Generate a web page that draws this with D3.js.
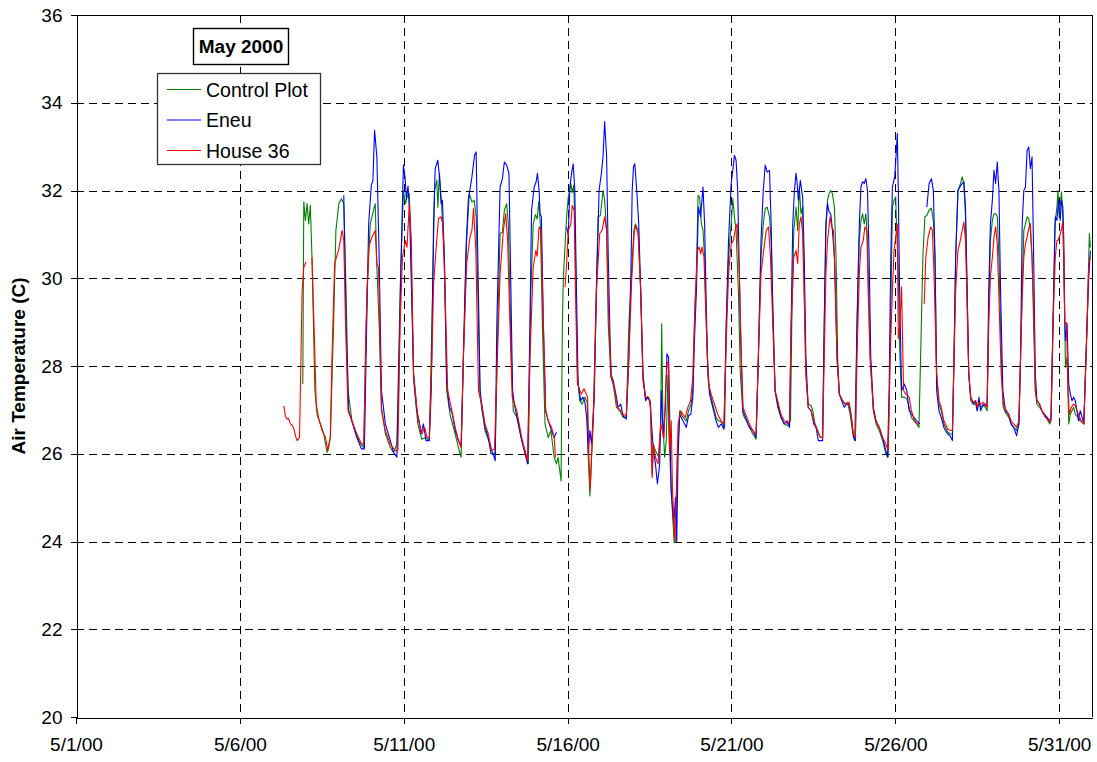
<!DOCTYPE html>
<html><head><meta charset="utf-8">
<script src="https://cdn.jsdelivr.net/npm/d3@7"></script>
<style>body{margin:0;background:#fff}svg{display:block;font-family:Arial,"Liberation Sans",sans-serif}</style>
</head><body><svg id="c" width="1097" height="762"></svg>
<script>
// ---- data (t = days since 5/1/00 00:00, value = air temperature in C) ----
const chartTitle = "May 2000";
const yTitle = "Air Temperature (C)";
const seriesNames = ["Control Plot", "Eneu", "House 36"];
const seriesColors = ["#008000", "#0000ff", "#ff0000"];
const yTicks = [20, 22, 24, 26, 28, 30, 32, 34, 36];
const xTickDays = [0, 5, 10, 15, 20, 25, 30];
const xTickLabels = ["5/1/00", "5/6/00", "5/11/00", "5/16/00", "5/21/00", "5/26/00", "5/31/00"];

const controlPlot = [[6.92,27.59],[6.95,31.74],[7.00,31.32],[7.05,31.70],[7.10,31.24],[7.15,31.66],[7.20,30.48],[7.29,27.44],[7.36,26.87],[7.46,26.68],[7.56,26.45],[7.66,26.03],[7.76,26.37],[7.86,28.96],[7.93,31.09],[8.02,31.70],[8.10,31.81],[8.17,31.70],[8.24,29.72],[8.30,27.44],[8.42,26.75],[8.57,26.40],[8.71,26.20],[8.78,26.14],[8.88,29.72],[8.98,31.24],[9.08,31.55],[9.13,31.70],[9.18,30.25],[9.25,28.96],[9.32,27.06],[9.44,26.45],[9.59,26.14],[9.69,26.03],[9.79,26.22],[9.89,29.72],[9.99,32.0],[10.05,31.70],[10.10,31.85],[10.17,31.93],[10.23,30.48],[10.30,27.67],[10.43,26.68],[10.55,26.33],[10.66,26.37],[10.78,26.30],[10.86,28.96],[10.94,32.0],[11.01,32.23],[11.04,31.62],[11.09,32.39],[11.16,31.62],[11.24,30.48],[11.31,27.44],[11.42,26.87],[11.57,26.45],[11.67,26.14],[11.75,25.92],[11.82,28.2],[11.92,30.86],[12.0,31.93],[12.08,31.74],[12.15,31.78],[12.21,31.4],[12.26,29.72],[12.33,27.29],[12.48,26.53],[12.63,26.22],[12.70,26.03],[12.79,26.0],[12.87,28.96],[12.94,31.02],[13.01,31.05],[13.07,31.55],[13.14,31.70],[13.19,31.24],[13.27,28.58],[13.34,26.98],[13.45,26.83],[13.6,26.3],[13.7,26.07],[13.8,25.77],[13.88,29.72],[13.95,31.24],[14.02,31.45],[14.07,31.35],[14.12,31.75],[14.17,31.2],[14.23,28.96],[14.31,26.68],[14.41,26.37],[14.49,26.53],[14.59,25.92],[14.66,25.77],[14.71,25.92],[14.80,25.38],[14.84,28.96],[14.87,30.03],[14.97,31.4],[15.02,31.85],[15.10,32.16],[15.14,31.95],[15.19,32.12],[15.24,30.48],[15.30,27.82],[15.37,27.21],[15.44,27.13],[15.53,27.29],[15.60,27.17],[15.63,25.92],[15.68,25.04],[15.73,25.92],[15.78,26.68],[15.85,28.96],[15.93,31.4],[16.0,31.43],[16.08,32.0],[16.13,31.78],[16.19,31.09],[16.24,28.96],[16.32,27.74],[16.39,27.59],[16.49,27.06],[16.59,26.98],[16.69,26.83],[16.79,26.83],[16.87,28.96],[16.95,30.1],[17.02,31.09],[17.07,31.24],[17.15,31.09],[17.23,29.72],[17.30,27.82],[17.38,27.25],[17.45,27.29],[17.53,27.17],[17.58,25.54],[17.61,26.22],[17.68,26.07],[17.78,25.92],[17.84,26.68],[17.87,28.96],[17.91,26.68],[17.96,25.92],[18.01,26.30],[18.06,27.8],[18.09,26.5],[18.16,25.2],[18.25,23.97],[18.30,24.0],[18.35,25.92],[18.42,26.98],[18.49,26.87],[18.57,26.79],[18.62,26.75],[18.69,26.98],[18.77,27.13],[18.82,27.44],[18.87,28.96],[18.93,30.1],[18.98,31.89],[19.03,31.85],[19.08,31.24],[19.13,31.1],[19.18,30.48],[19.26,28.2],[19.33,27.44],[19.43,27.13],[19.53,26.83],[19.60,26.75],[19.70,26.72],[19.79,26.6],[19.84,28.96],[19.91,30.48],[19.99,31.24],[20.04,31.81],[20.09,31.4],[20.14,31.09],[20.21,29.72],[20.27,27.82],[20.35,26.9],[20.45,26.75],[20.55,26.6],[20.65,26.45],[20.75,26.33],[20.82,28.2],[20.90,30.48],[20.97,31.24],[21.03,31.59],[21.09,31.62],[21.16,31.40],[21.21,30.86],[21.26,29.34],[21.33,27.44],[21.41,27.06],[21.51,26.83],[21.61,26.68],[21.72,26.64],[21.80,26.75],[21.84,28.96],[21.90,31.09],[21.97,31.62],[22.02,31.09],[22.07,32.08],[22.12,31.47],[22.17,31.62],[22.22,29.72],[22.27,27.82],[22.34,27.13],[22.43,27.1],[22.48,26.98],[22.55,26.68],[22.63,26.53],[22.71,26.37],[22.78,26.37],[22.83,28.96],[22.88,31.09],[22.93,31.78],[22.98,31.93],[23.03,32.0],[23.08,31.93],[23.14,31.62],[23.19,30.48],[23.24,28.2],[23.29,27.36],[23.39,27.21],[23.46,27.13],[23.54,27.17],[23.62,26.9],[23.69,26.53],[23.76,26.30],[23.83,28.96],[23.90,30.86],[23.95,31.32],[24.0,31.47],[24.05,31.24],[24.10,31.47],[24.15,30.86],[24.23,28.2],[24.33,26.98],[24.41,26.68],[24.51,26.53],[24.61,26.30],[24.71,26.0],[24.78,25.92],[24.84,28.2],[24.91,31.62],[24.96,31.78],[25.01,31.85],[25.04,31.09],[25.08,30.48],[25.14,28.2],[25.19,27.29],[25.27,27.29],[25.35,27.25],[25.42,27.06],[25.49,26.83],[25.57,26.75],[25.65,26.68],[25.72,26.6],[25.77,28.2],[25.84,30.48],[25.90,31.40],[25.96,31.43],[26.03,31.55],[26.10,31.60],[26.16,31.3],[26.21,30.48],[26.26,27.82],[26.33,27.13],[26.40,26.98],[26.48,26.68],[26.53,26.6],[26.60,26.49],[26.69,26.45],[26.74,26.45],[26.79,28.2],[26.84,30.48],[26.91,32.0],[26.99,32.16],[27.04,32.31],[27.09,32.16],[27.14,31.4],[27.19,29.72],[27.24,27.82],[27.30,27.21],[27.38,27.13],[27.45,27.13],[27.50,26.98],[27.55,27.21],[27.60,27.06],[27.68,27.10],[27.75,27.06],[27.80,26.98],[27.85,29.34],[27.90,30.86],[27.96,31.32],[28.01,31.47],[28.06,31.47],[28.11,31.40],[28.16,30.48],[28.23,28.2],[28.29,27.06],[28.36,26.94],[28.46,26.83],[28.53,26.68],[28.61,26.6],[28.70,26.53],[28.77,26.68],[28.82,28.2],[28.87,29.72],[28.92,31.09],[28.97,31.24],[29.02,31.40],[29.07,31.36],[29.12,31.09],[29.17,30.48],[29.22,28.96],[29.27,27.44],[29.32,27.13],[29.40,27.06],[29.47,26.98],[29.55,26.90],[29.63,26.79],[29.71,26.68],[29.75,26.75],[29.81,28.96],[29.87,31.24],[29.93,31.62],[29.96,32.0],[30.00,31.4],[30.07,31.97],[30.11,31.4],[30.17,28.96],[30.19,27.97],[30.24,28.2],[30.29,26.68],[30.34,26.9],[30.44,27.06],[30.49,26.9],[30.57,26.83],[30.64,26.75],[30.75,26.68],[30.80,27.82],[30.85,28.96],[30.92,31.02],[30.95,30.7]];

const eneu = [[8.17,31.89],[8.24,28.96],[8.32,26.98],[8.44,26.68],[8.57,26.37],[8.71,26.11],[8.80,26.11],[8.85,28.2],[8.93,31.24],[9.01,32.12],[9.06,32.23],[9.11,33.37],[9.18,32.77],[9.25,30.48],[9.32,27.44],[9.44,26.68],[9.59,26.30],[9.69,26.03],[9.79,25.92],[9.84,27.44],[9.92,30.48],[9.99,32.58],[10.04,32.3],[10.08,31.8],[10.13,32.1],[10.18,31.5],[10.22,30.2],[10.30,27.82],[10.40,26.98],[10.47,26.75],[10.53,26.45],[10.60,26.68],[10.68,26.30],[10.78,26.30],[10.84,27.44],[10.91,31.24],[10.96,32.50],[11.04,32.69],[11.09,32.31],[11.14,31.70],[11.18,31.78],[11.24,30.48],[11.31,27.67],[11.39,27.06],[11.47,26.94],[11.57,26.53],[11.67,26.30],[11.75,26.18],[11.82,28.2],[11.90,30.71],[11.97,31.78],[12.08,32.31],[12.16,32.80],[12.21,32.88],[12.26,30.48],[12.33,27.44],[12.40,26.98],[12.48,26.60],[12.58,26.37],[12.66,26.0],[12.73,26.0],[12.79,25.84],[12.84,28.96],[12.94,32.08],[13.01,32.27],[13.07,32.65],[13.14,32.58],[13.21,32.39],[13.27,29.72],[13.32,27.44],[13.39,27.06],[13.50,26.68],[13.60,26.30],[13.70,26.0],[13.78,25.77],[13.85,28.96],[13.90,31.55],[13.98,32.08],[14.04,32.2],[14.08,32.39],[14.13,32.0],[14.16,31.47],[14.20,31.4],[14.26,28.96],[14.33,26.98],[14.41,26.75],[14.51,26.53],[14.59,26.37],[14.66,26.49],null,[14.97,31.17],[15.02,30.98],[15.07,32.08],[15.12,32.39],[15.17,32.61],[15.22,32.0],[15.27,29.72],[15.32,27.59],[15.40,27.21],[15.47,27.29],[15.53,27.17],[15.58,26.83],[15.63,26.03],[15.68,26.53],[15.73,26.22],[15.81,27.21],[15.88,29.72],[15.96,32.0],[16.03,32.39],[16.08,32.77],[16.13,33.57],[16.19,32.77],[16.24,30.48],[16.32,27.82],[16.39,27.67],[16.49,27.29],[16.54,27.06],[16.62,27.13],[16.69,26.87],[16.79,26.79],[16.87,28.2],[16.93,30.1],[16.97,32.0],[17.01,32.54],[17.05,32.61],[17.11,32.0],[17.17,31.24],[17.23,29.72],[17.30,27.74],[17.38,27.21],[17.45,27.29],[17.51,27.21],[17.56,26.68],[17.62,26.07],[17.68,25.77],[17.74,25.31],[17.81,25.77],[17.86,27.44],[17.92,26.37],[17.98,27.06],[18.03,28.28],[18.08,28.2],[18.12,26.68],[18.16,25.16],[18.24,24.39],[18.29,25.0],[18.33,24.0],[18.37,25.92],[18.42,26.9],[18.49,26.79],[18.57,26.68],[18.62,26.6],[18.69,26.87],[18.76,26.9],[18.82,27.29],[18.87,28.58],[18.93,29.72],[18.99,31.62],[19.06,31.4],[19.13,32.08],[19.18,31.24],[19.23,29.34],[19.28,27.82],[19.33,27.36],[19.43,27.06],[19.53,26.75],[19.60,26.6],[19.69,26.68],[19.77,26.56],[19.84,28.96],[19.91,30.86],[19.99,32.16],[20.04,32.46],[20.09,32.8],[20.14,32.69],[20.19,32.0],[20.27,28.96],[20.35,26.98],[20.45,26.79],[20.55,26.6],[20.65,26.53],[20.75,26.37],[20.82,28.2],[20.90,30.86],[20.97,32.0],[21.03,32.58],[21.09,32.42],[21.16,32.46],[21.21,31.24],[21.26,29.34],[21.33,27.44],[21.41,27.13],[21.51,26.83],[21.61,26.68],[21.70,26.75],[21.77,26.6],[21.82,28.96],[21.87,31.24],[21.92,32.0],[21.97,32.39],[22.0,32.2],[22.04,31.78],[22.10,32.23],[22.17,31.85],[22.22,30.48],[22.27,28.2],[22.34,27.06],[22.43,26.98],[22.51,26.68],[22.58,26.6],[22.65,26.3],[22.78,26.3],[22.83,28.96],[22.88,31.24],[22.93,31.70],[22.98,31.51],[23.03,31.47],[23.08,31.09],[23.14,30.48],[23.22,28.2],[23.29,27.36],[23.36,27.21],[23.44,27.06],[23.52,27.13],[23.59,27.13],[23.66,26.83],[23.72,26.37],[23.78,26.30],[23.83,28.96],[23.90,31.24],[23.95,32.08],[24.0,32.2],[24.05,32.16],[24.10,32.27],[24.15,32.0],[24.20,30.48],[24.25,28.2],[24.33,27.06],[24.41,26.75],[24.51,26.6],[24.61,26.37],[24.71,26.07],[24.76,25.92],[24.81,27.44],[24.86,30.48],[24.91,32.08],[24.98,32.31],[25.02,32.77],[25.06,33.30],[25.09,32.0],[25.13,29.72],[25.19,27.44],[25.27,27.59],[25.35,27.44],[25.42,26.98],[25.49,26.9],[25.57,26.83],[25.65,26.75],[25.75,26.68],null,[25.96,31.62],[26.03,32.16],[26.10,32.27],[26.16,32.0],[26.21,30.48],[26.26,27.44],[26.33,26.98],[26.40,26.83],[26.48,26.6],[26.53,26.53],[26.60,26.45],[26.67,26.41],[26.74,26.3],[26.79,28.2],[26.84,30.48],[26.91,32.0],[26.97,32.08],[27.04,32.16],[27.09,32.2],[27.14,31.62],[27.19,29.72],[27.24,27.82],[27.30,27.29],[27.38,27.13],[27.45,27.21],[27.50,26.98],[27.55,27.29],[27.60,26.98],[27.68,27.13],[27.75,27.10],[27.80,27.13],[27.85,29.72],[27.90,31.24],[27.96,31.78],[28.01,32.46],[28.06,32.16],[28.11,32.65],[28.16,32.0],[28.21,29.72],[28.28,27.44],[28.36,26.98],[28.46,26.90],[28.53,26.68],[28.61,26.6],[28.70,26.41],[28.77,26.68],[28.82,28.2],[28.87,31.24],[28.92,32.0],[28.97,32.08],[29.02,32.92],[29.07,32.99],[29.12,32.5],[29.17,32.77],[29.22,30.48],[29.27,27.82],[29.32,27.21],[29.40,27.13],[29.47,26.98],[29.55,26.9],[29.63,26.83],[29.71,26.75],[29.75,26.83],[29.81,28.96],[29.88,31.4],[29.93,31.32],[29.98,31.78],[30.03,31.32],[30.07,31.78],[30.11,31.62],[30.14,30.86],[30.17,29.0],[30.19,28.58],[30.24,28.96],[30.29,27.59],[30.34,27.36],[30.39,27.21],[30.44,27.29],[30.49,27.21],[30.54,26.98],[30.59,26.75],[30.64,26.98],[30.70,26.83],[30.75,26.68],[30.80,27.82],[30.85,28.96],[30.90,30.0],[30.95,30.63]];

const house36 = [[6.34,27.09],[6.39,26.85],[6.44,26.79],[6.49,26.80],[6.54,26.68],[6.60,26.65],[6.65,26.56],[6.70,26.40],[6.75,26.30],[6.82,26.37],[6.90,29.72],[6.95,30.25],[7.02,30.37],null,[7.20,30.48],[7.26,29.0],[7.33,27.13],[7.41,26.79],[7.51,26.53],[7.61,26.37],[7.69,26.07],[7.76,26.37],[7.81,28.2],[7.89,30.33],[8.02,30.67],[8.12,31.09],[8.17,30.86],[8.22,29.11],[8.30,26.98],[8.42,26.75],[8.57,26.45],[8.71,26.22],[8.78,26.22],[8.85,28.96],[8.93,30.71],[9.03,30.94],[9.13,31.09],[9.18,30.33],[9.23,30.25],[9.32,26.98],[9.44,26.53],[9.59,26.22],[9.74,26.07],[9.82,26.07],[9.89,28.96],[9.96,30.48],[10.05,30.86],[10.10,30.71],[10.17,31.70],[10.23,30.86],[10.30,27.82],[10.43,26.83],[10.55,26.45],[10.64,26.60],[10.71,26.37],[10.78,26.37],[10.86,28.2],[10.91,29.87],[10.98,30.6],[11.06,31.36],[11.14,31.4],[11.19,31.24],[11.26,29.72],[11.34,27.44],[11.47,26.98],[11.57,26.60],[11.67,26.30],[11.75,26.14],[11.82,28.2],[11.92,30.33],[12.02,30.94],[12.08,31.09],[12.13,31.59],[12.20,30.63],[12.28,27.44],[12.38,27.13],[12.48,26.68],[12.58,26.45],[12.68,26.07],[12.77,26.11],[12.84,27.82],[12.94,30.1],[13.04,31.09],[13.11,31.47],[13.17,30.86],[13.24,28.96],[13.31,27.29],[13.45,26.98],[13.60,26.37],[13.72,26.0],[13.78,25.84],[13.85,28.2],[13.95,30.25],[14.03,30.63],[14.07,30.5],[14.13,31.17],[14.19,31.09],[14.26,28.96],[14.33,26.98],[14.41,26.75],[14.51,26.6],[14.59,26.37],[14.63,25.92],null,[14.92,29.8],[14.97,30.33],[15.02,31.09],[15.10,31.24],[15.14,31.66],[15.20,31.55],[15.24,29.72],[15.30,27.59],[15.42,27.36],[15.50,27.48],[15.61,27.29],[15.65,25.92],[15.69,25.19],[15.75,26.30],[15.81,27.44],[15.88,29.72],[15.98,31.02],[16.05,31.09],[16.13,31.40],[16.19,31.09],[16.26,28.96],[16.34,27.74],[16.44,27.44],[16.52,27.06],[16.62,26.98],[16.69,26.9],[16.79,26.87],[16.87,28.2],[16.95,29.87],[17.03,31.02],[17.07,31.2],[17.15,31.02],[17.23,29.72],[17.30,27.67],[17.38,27.29],[17.47,27.29],[17.53,27.06],[17.58,25.46],[17.62,26.22],[17.68,25.92],[17.76,25.77],[17.84,26.68],[17.94,26.37],[17.99,27.44],[18.04,28.09],[18.08,28.05],[18.11,26.07],[18.16,26.75],[18.20,25.16],[18.27,24.02],[18.32,25.2],[18.37,26.68],[18.45,26.98],[18.52,26.9],[18.59,26.83],[18.67,27.06],[18.75,27.2],[18.82,27.74],[18.89,29.5],[18.96,30.63],[19.01,30.71],[19.06,30.56],[19.10,30.71],[19.16,30.48],[19.23,28.96],[19.30,27.59],[19.38,27.36],[19.48,27.13],[19.58,26.9],[19.68,26.75],[19.77,26.68],[19.84,28.6],[19.91,30.1],[19.99,30.79],[20.06,30.86],[20.11,31.09],[20.17,31.24],[20.24,30.1],[20.30,28.2],[20.35,27.06],[20.45,26.87],[20.55,26.68],[20.65,26.53],[20.75,26.45],[20.82,28.2],[20.90,30.1],[20.97,30.56],[21.06,31.09],[21.13,31.17],[21.19,30.48],[21.26,28.96],[21.33,27.44],[21.41,27.21],[21.51,26.9],[21.61,26.75],[21.72,26.68],[21.77,26.75],[21.82,28.96],[21.90,30.48],[21.97,30.63],[22.02,30.33],[22.07,31.24],[22.12,31.4],[22.17,31.02],[22.22,29.57],[22.27,27.82],[22.34,27.06],[22.43,26.98],[22.51,26.75],[22.58,26.6],[22.65,26.45],[22.73,26.37],[22.78,26.37],[22.83,28.2],[22.88,30.1],[22.93,30.86],[23.01,31.4],[23.06,31.17],[23.11,31.09],[23.16,30.1],[23.22,28.2],[23.29,27.36],[23.39,27.21],[23.49,27.13],[23.59,27.17],[23.66,26.83],[23.72,26.45],[23.78,26.37],[23.83,28.2],[23.90,30.1],[23.95,30.71],[24.02,30.86],[24.07,31.17],[24.13,31.09],[24.17,29.72],[24.23,28.2],[24.33,26.98],[24.41,26.75],[24.51,26.6],[24.61,26.37],[24.71,26.22],[24.78,26.07],[24.84,28.2],[24.91,29.72],[24.96,30.63],[25.01,30.94],[25.06,31.24],[25.09,28.62],[25.14,28.96],[25.19,29.8],[25.25,27.44],[25.32,27.36],[25.42,27.29],[25.49,26.98],[25.59,26.75],[25.67,26.68],[25.72,26.68],null,[25.88,29.42],[25.93,30.48],[26.0,30.94],[26.08,31.17],[26.13,31.09],[26.18,30.1],[26.26,27.82],[26.33,27.21],[26.40,27.06],[26.48,26.75],[26.53,26.68],[26.60,26.56],[26.69,26.53],[26.74,26.53],[26.79,28.2],[26.84,29.72],[26.91,30.63],[26.97,30.82],[27.04,31.09],[27.09,31.28],[27.14,30.86],[27.19,29.34],[27.24,27.82],[27.30,27.29],[27.38,27.17],[27.45,27.21],[27.50,27.06],[27.55,27.17],[27.60,27.13],[27.68,27.17],[27.75,27.13],[27.80,27.06],[27.85,28.96],[27.90,30.03],[27.96,30.48],[28.01,30.94],[28.06,31.17],[28.11,30.79],[28.16,29.57],[28.23,27.82],[28.29,27.13],[28.36,27.02],[28.46,26.9],[28.53,26.75],[28.61,26.68],[28.70,26.6],[28.77,26.75],[28.82,28.2],[28.87,29.57],[28.92,30.48],[28.97,30.79],[29.02,30.94],[29.07,31.13],[29.12,31.24],[29.17,30.48],[29.22,29.34],[29.27,27.44],[29.32,27.21],[29.40,27.13],[29.47,26.98],[29.55,26.86],[29.63,26.79],[29.71,26.72],[29.75,26.79],[29.81,28.96],[29.88,30.48],[29.93,30.86],[29.96,30.86],[30.04,31.02],[30.11,31.28],[30.14,30.48],[30.17,28.96],[30.22,28.99],[30.27,27.44],[30.31,26.9],[30.37,27.06],[30.44,27.13],[30.49,27.1],[30.54,26.98],[30.59,26.9],[30.67,26.75],[30.75,26.68],[30.80,27.82],[30.85,28.96],[30.90,30.33],[30.95,30.48]];

// ---- drawing ----
const svg = d3.select("#c");
const L = 76, T = 15, R = 1092, B = 717;
const day0 = Date.UTC(2000, 4, 1);
const toDate = t => new Date(day0 + t * 864e5);
const x = d3.scaleUtc().domain([toDate(0), toDate(31)]).range([L, R]);
const y = d3.scaleLinear().domain([20, 36]).range([B, T]);
const px = v => Math.round(v) + 0.5;

svg.append("rect").attr("width", 1097).attr("height", 762).attr("fill", "#fff");

// gridlines
const grid = svg.append("g").attr("stroke", "#000").attr("stroke-width", 1)
  .attr("stroke-dasharray", "8,5").attr("shape-rendering", "crispEdges");
grid.selectAll(".h").data(yTicks.filter(v => v > 20 && v < 36)).enter().append("line")
  .attr("x1", L).attr("x2", R).attr("y1", d => px(y(d))).attr("y2", d => px(y(d)));
grid.selectAll(".v").data(xTickDays.filter(d => d > 0)).enter().append("line")
  .attr("y1", T).attr("y2", B).attr("x1", d => px(x(toDate(d)))).attr("x2", d => px(x(toDate(d))));

// series
const allSeries = [controlPlot, eneu, house36];
const line = d3.line().defined(d => d !== null)
  .x(d => x(toDate(d[0]))).y(d => y(d[1]));
allSeries.forEach((s, i) => {
  svg.append("path").datum(s).attr("d", line).attr("fill", "none")
    .attr("stroke", seriesColors[i]).attr("stroke-width", 1.1).attr("stroke-linejoin", "round");
});

// plot border (top/right)
svg.append("path").attr("d", `M${L},${T + 0.5}H${R + 0.5}V${B}`).attr("fill", "none")
  .attr("stroke", "#000").attr("stroke-width", 1).attr("shape-rendering", "crispEdges");

// axes
const yAxis = d3.axisLeft(y).tickValues(yTicks).tickSize(6).tickSizeOuter(0).tickPadding(8).tickFormat(d3.format("d"));
const gy = svg.append("g").attr("transform", `translate(${L + 0.5},0)`).call(yAxis);
const xAxis = d3.axisBottom(x).tickValues(xTickDays.map(toDate)).tickSize(6).tickSizeOuter(0).tickPadding(14)
  .tickFormat((d, i) => xTickLabels[i]);
const gx = svg.append("g").attr("transform", `translate(0,${B + 0.5})`).call(xAxis);
[gx, gy].forEach(g => {
  g.selectAll("path,line").attr("stroke", "#000").attr("shape-rendering", "crispEdges");
  g.selectAll("text").attr("fill", "#000").style("font-size", "19px").style("font-family", "Arial, 'Liberation Sans', sans-serif");
});

// y title
svg.append("text").attr("transform", `translate(25,${(T + B) / 2}) rotate(-90)`)
  .attr("text-anchor", "middle").style("font-size", "19px").style("font-weight", "bold").text(yTitle);

// chart title box
svg.append("rect").attr("x", 193.5).attr("y", 28.5).attr("width", 95).attr("height", 36)
  .attr("fill", "#fff").attr("stroke", "#000").attr("stroke-width", 1.4);
svg.append("text").attr("x", 241).attr("y", 53).attr("text-anchor", "middle")
  .style("font-size", "19px").style("font-weight", "bold").text(chartTitle);

// legend
svg.append("rect").attr("x", 157.5).attr("y", 73.5).attr("width", 163).attr("height", 91)
  .attr("fill", "#fff").attr("stroke", "#333").attr("stroke-width", 1.3);
const legY = [89.5, 120, 150.5];
seriesNames.forEach((n, i) => {
  svg.append("line").attr("x1", 167).attr("x2", 201).attr("y1", legY[i]).attr("y2", legY[i])
    .attr("stroke", seriesColors[i]).attr("stroke-width", 1.1);
  svg.append("text").attr("x", 206).attr("y", legY[i] + 7).style("font-size", "19.5px").text(n);
});
</script></body></html>
